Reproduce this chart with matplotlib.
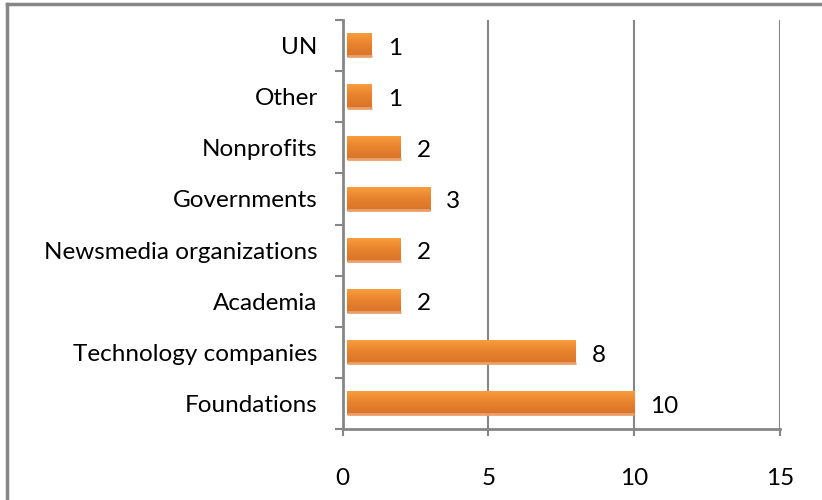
import numpy as np
import matplotlib.pyplot as plt
from matplotlib.lines import Line2D
from matplotlib.colors import LinearSegmentedColormap

# Data (bottom to top as drawn)
categories = ["Foundations", "Technology companies", "Academia", "Newsmedia organizations",
              "Governments", "Nonprofits", "Other", "UN"]
counts = [10, 8, 2, 2, 3, 2, 1, 1]
x_ticks = [0, 5, 10, 15]

grey = "#868686"
plt.rcParams['font.family'] = ['Lato', 'DejaVu Sans']
fs = 17.5

fig = plt.figure(figsize=(8.22, 5), dpi=100)
ax = fig.add_axes([342.7 / 822, 1 - 429 / 500, (780 - 342.7) / 822, (429 - 20) / 500])

y = np.arange(len(categories))
bar_h = 0.46
bar_left = 0.15  # Excel draws the bars a few pixels right of the axis

# gradient for the Excel-style bars (dark at bottom, light at top)
grad = np.linspace(0, 1, 64).reshape(-1, 1)
cmap = LinearSegmentedColormap.from_list("bar", ["#D8732A", "#E6812D", "#F99C3D"])

bars = ax.barh(y, np.array(counts) - bar_left, left=bar_left, height=bar_h,
               color="#E8832C", zorder=3)
for b in bars:
    x0, y0 = b.get_x(), b.get_y()
    w, h = b.get_width(), b.get_height()
    ax.imshow(grad, extent=[x0, x0 + w, y0, y0 + h], cmap=cmap, aspect="auto",
              origin="lower", zorder=3.5)
    ax.plot([x0, x0 + w], [y0 + h * 0.04, y0 + h * 0.04], color="#E9A06A", lw=2,
            zorder=3.6, solid_capstyle="butt")

for yi, v in zip(y, counts):
    ax.annotate(str(v), (v, yi), xytext=(11.5, -2), textcoords="offset points",
                ha="left", va="center", fontsize=fs, color="black")

ax.set_xlim(0, 15)
ax.set_ylim(-0.5, len(categories) - 0.5)
ax.set_xticks(x_ticks)
ax.set_xticklabels([str(t) for t in x_ticks])
ax.set_yticks(y)
ax.set_yticklabels(categories)
ax.set_yticks(np.arange(-0.5, len(categories)), minor=True)

ax.tick_params(axis="y", which="major", length=0, pad=18, labelsize=fs)
ax.tick_params(axis="y", which="minor", length=6, width=1.5, color=grey, direction="out")
ax.tick_params(axis="x", which="major", length=5, width=1.5, color=grey, pad=23,
               labelsize=fs)

for s in ["top", "right"]:
    ax.spines[s].set_visible(False)
for s in ["left", "bottom"]:
    ax.spines[s].set_color(grey)
    ax.spines[s].set_linewidth(2)

ax.grid(axis="x", color=grey, lw=1.5, zorder=1)
ax.set_axisbelow(True)

# outer chart border (cropped at right and bottom)
fig.add_artist(Line2D([7 / 822, 1], [1 - 4 / 500, 1 - 4 / 500], color=grey, lw=2.5,
                      transform=fig.transFigure))
fig.add_artist(Line2D([7 / 822, 7 / 822], [0, 1 - 4 / 500], color=grey, lw=2.5,
                      transform=fig.transFigure))

fig.savefig("out.png", dpi=100)
